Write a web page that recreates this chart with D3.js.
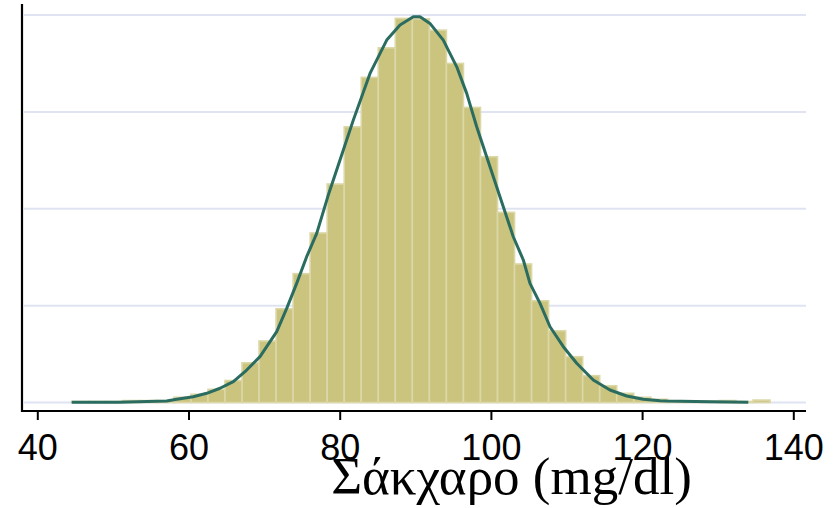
<!DOCTYPE html>
<html>
<head>
<meta charset="utf-8">
<script src="https://cdn.jsdelivr.net/npm/d3@7"></script>
<style>
  html, body { margin: 0; padding: 0; background: #ffffff; }
  svg { display: block; }
</style>
</head>
<body>
<svg id="chart" width="840" height="508"></svg>
<script>
// Histogram of blood sugar (density scale), 41 equal-width bins
const binStart = 44.55;
const binWidth = 2.253;
const binDensity = [
  0.0001, 0.0001, 0.0001, 0.0002, 0.0002, 0.0002,
  0.00054, 0.00085, 0.00136, 0.00227, 0.0041, 0.00635,
  0.00968, 0.0133, 0.0175, 0.02255, 0.02846, 0.03356, 0.03661,
  0.03965, 0.0396, 0.03844, 0.035, 0.03046, 0.02537,
  0.01963, 0.0143, 0.0105, 0.0074, 0.00473, 0.00277, 0.00173, 0.00095, 0.00054,
  0.00033, 0.00015, 0.00015, 0.00015, 0.0002, 0.0001, 0.00025
];

// Smoothed density curve overlaid on the bars
const curveX = [
  44.55, 50.71, 57.12, 58.44, 60.63, 62.41, 64.17, 65.93, 67.47, 69.46,
  71.67, 72.99, 74.31, 75.63, 76.96, 78.45, 80.04, 81.80, 84.01, 86.22,
  87.98, 89.74, 90.62, 91.94, 93.70, 95.48, 96.80, 98.12, 99.44, 100.32,
  101.64, 102.96, 104.29, 105.17, 106.50, 107.82, 109.58, 111.35, 113.54, 115.75,
  117.96, 120.16, 122.37, 123.25, 128.98, 134.05
];
const curveY = [
  0.00002, 0.00003, 0.00015, 0.00033, 0.0006, 0.00095, 0.00147, 0.00215, 0.00318, 0.00473,
  0.00731, 0.00972, 0.0123, 0.01505, 0.01746, 0.02131, 0.02503, 0.02915, 0.03397, 0.03741,
  0.03896, 0.03981, 0.03981, 0.03913, 0.03741, 0.03465, 0.03191, 0.02846, 0.02537, 0.0233,
  0.02021, 0.01711, 0.01471, 0.0123, 0.01024, 0.00782, 0.00576, 0.00405, 0.00232, 0.00129,
  0.00067, 0.00033, 0.00019, 0.00015, 0.00008, 0.00002
];

const xTicks = [40, 60, 80, 100, 120, 140];
const gridValues = [0, 0.01, 0.02, 0.03, 0.04];
const xTitle = "Σάκχαρο (mg/dl)";

const svg = d3.select("#chart");

const x = d3.scaleLinear().domain([40, 140]).range([37.3, 793.3]);
const y = d3.scaleLinear().domain([0, 0.04]).range([402.5, 15]);

const plotLeft = 22, plotRight = 806, axisY = 411;

// horizontal grid lines
svg.append("g")
  .selectAll("line")
  .data(gridValues)
  .join("line")
  .attr("x1", plotLeft + 2)
  .attr("x2", plotRight)
  .attr("y1", d => y(d))
  .attr("y2", d => y(d))
  .attr("stroke", "#e0e3f1")
  .attr("stroke-width", 2);

// histogram bars
const bins = binDensity.map((d, i) => ({
  lo: binStart + i * binWidth,
  hi: binStart + (i + 1) * binWidth,
  d
}));

svg.append("g")
  .selectAll("rect")
  .data(bins.filter(b => b.d > 0))
  .join("rect")
  .attr("x", b => x(b.lo))
  .attr("width", b => x(b.hi) - x(b.lo))
  .attr("y", b => y(b.d))
  .attr("height", b => y(0) - y(b.d))
  .attr("fill", "#cbc47f")
  .attr("stroke", "#dcd7a7")
  .attr("stroke-width", 1.6);

// density curve
const line = d3.line()
  .x((d, i) => x(curveX[i]))
  .y(d => y(d));

svg.append("path")
  .datum(curveY)
  .attr("d", line)
  .attr("fill", "none")
  .attr("stroke", "#2b6c61")
  .attr("stroke-width", 3)
  .attr("stroke-linejoin", "round");

// x axis
const xAxis = d3.axisBottom(x)
  .tickValues(xTicks)
  .tickSize(9)
  .tickPadding(14)
  .tickFormat(d3.format("d"));

const gx = svg.append("g")
  .attr("transform", `translate(0,${axisY})`)
  .call(xAxis);
gx.select(".domain").remove();
gx.selectAll(".tick line").attr("stroke", "#000").attr("stroke-width", 2);
gx.selectAll(".tick text")
  .attr("fill", "#000")
  .style("font-family", "'Liberation Sans', Arial, sans-serif")
  .style("font-size", "36px");

// axis lines
svg.append("line")
  .attr("x1", plotLeft - 1).attr("x2", plotRight)
  .attr("y1", axisY).attr("y2", axisY)
  .attr("stroke", "#000").attr("stroke-width", 2.2);
svg.append("line")
  .attr("x1", plotLeft).attr("x2", plotLeft)
  .attr("y1", 4).attr("y2", axisY + 1)
  .attr("stroke", "#000").attr("stroke-width", 2.2);

// x axis title
svg.append("text")
  .attr("x", 511.5)
  .attr("y", 494)
  .attr("text-anchor", "middle")
  .attr("fill", "#000")
  .style("font-family", "'Liberation Serif', 'Times New Roman', serif")
  .style("font-size", "53px")
  .text(xTitle);
</script>
</body>
</html>
